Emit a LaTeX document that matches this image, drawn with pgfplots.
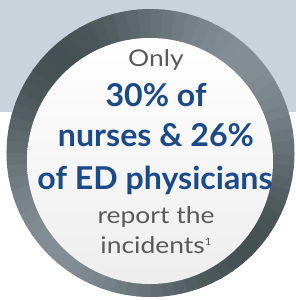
\documentclass[border=0pt]{standalone}
\usepackage{pgfplots}
\pgfplotsset{compat=1.18}
\usepackage{fontspec}
\setmainfont{Lato}
\definecolor{bgblue}{HTML}{C9D3DC}
\definecolor{ringdark}{HTML}{465153}
\definecolor{ringlight}{HTML}{828E94}
\definecolor{txtblue}{HTML}{1A4A8C}
\definecolor{txtgray}{HTML}{5A5A5A}
\newcommand\gtxt[1]{\scalebox{1.15}[1]{\fontsize{23}{23}\selectfont #1}}
\newcommand\btxt[1]{\scalebox{1.02}[1]{\fontsize{31.5}{31.5}\selectfont\bfseries #1}}
\begin{document}
\begin{tikzpicture}[x=1pt,y=-1pt]
\begin{axis}[at={(0,0)},anchor=north west,width=296pt,height=300pt,scale only axis,
  xmin=0,xmax=296,ymin=0,ymax=300,y dir=reverse,hide axis,clip=false]
\addplot[draw=none] coordinates {(0,0) (296,300)};
\end{axis}
\path[use as bounding box] (0,0) rectangle (296,300);
\fill[white] (0,0) rectangle (296,300);
\fill[bgblue] (0,0) rectangle (296,112);
% ring
\foreach \a in {0,5,...,355}{
  \pgfmathsetmacro\t{50*(1+cos(2*(\a+2.5-135)))}
  \fill[ringlight!\t!ringdark] (150.5,153) -- ++(\a:144) arc[start angle=\a,end angle=\a+5.6,radius=144] -- cycle;
}
\shade[top color=white,bottom color=black!7] (150,161) circle[radius=123];
% texts
\node[anchor=base,text=txtgray,inner sep=0] at (156,66.7) {\gtxt{Only}};
\node[anchor=base,text=txtblue,inner sep=0] at (156,106) {\btxt{30\% of}};
\node[anchor=base,text=txtblue,inner sep=0] at (156,146) {\btxt{nurses \& 26\%}};
\node[anchor=base,text=txtblue,inner sep=0] at (155,189) {\btxt{of ED physicians}};
\node[anchor=base,text=txtgray,inner sep=0] at (156,223) {\gtxt{report the}};
\node[anchor=base,text=txtgray,inner sep=0] at (156,253) {\gtxt{incidents\raisebox{8pt}{\fontsize{10}{10}\selectfont 1}}};
\end{tikzpicture}
\end{document}
